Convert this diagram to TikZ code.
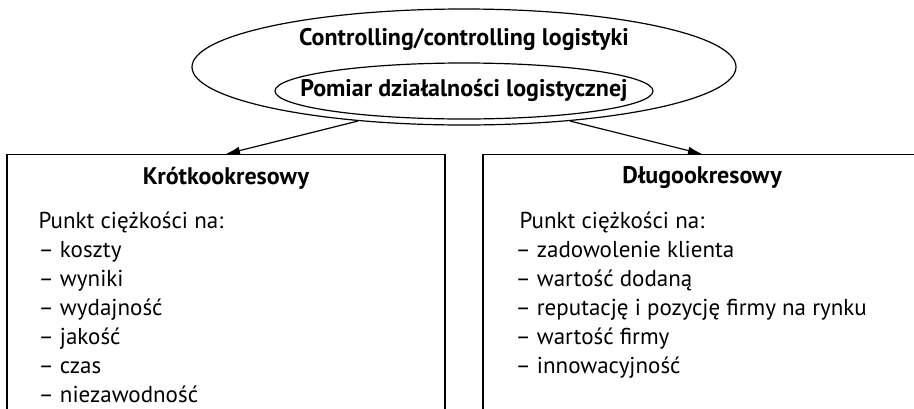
\documentclass[tikz,border=0pt]{standalone}
\usepackage{fontspec}
\setmainfont{PT Sans}
\usetikzlibrary{shapes.geometric,arrows.meta,positioning}

\begin{document}
\begin{tikzpicture}[x=1pt,y=-1pt,line width=1.2pt,>={Latex[length=14pt,width=8pt]},
    oval/.style={draw,ellipse,inner sep=0pt},
    box/.style={draw,rectangle,minimum width=438pt,minimum height=320pt,anchor=north},
    title/.style={font=\bfseries\fontsize{24}{28}\selectfont},
    list/.style={align=left,anchor=north west,inner sep=0pt,font=\fontsize{23}{29}\selectfont}]

  % fix the page size
  \useasboundingbox (0,0) rectangle (914,408);
  \clip (0,0) rectangle (914,408);

  % draw the two ellipses
  \node[oval,minimum width=544pt,minimum height=116pt] (ctrl) at (464,67) {};
  \node[oval,minimum width=378pt,minimum height=56pt] (pomiar) at (464,91) {};
  \node[title] (ctrltext) at (464,39) {Controlling/controlling logistyki};
  \node[title] (pomiartext) at (464,90) {Pomiar działalności logistycznej};

  % draw the boxes
  \node[box] (kbox) at (226,154) {};
  \node[box] (dbox) at (702,154) {};
  \node[title] (ktitle) at (226,178) {Krótkookresowy};
  \node[title] (dtitle) at (702,178) {Długookresowy};

  % draw the lists
  \node[list] (klist) at (38,211) {Punkt ciężkości na:\\
    – koszty\\
    – wyniki\\
    – wydajność\\
    – jakość\\
    – czas\\
    – niezawodność};
  \node[list] (dlist) at (515,211) {\hspace{4pt}Punkt ciężkości na:\\
    – zadowolenie klienta\\
    – wartość dodaną\\
    – reputację i pozycję firmy na rynku\\
    – wartość firmy\\
    – innowacyjność};

  % arrows from the top down
  \draw[->] (ctrl.207) -- (kbox.north);
  \draw[->] (ctrl.333) -- (dbox.north);

\end{tikzpicture}
\end{document}
